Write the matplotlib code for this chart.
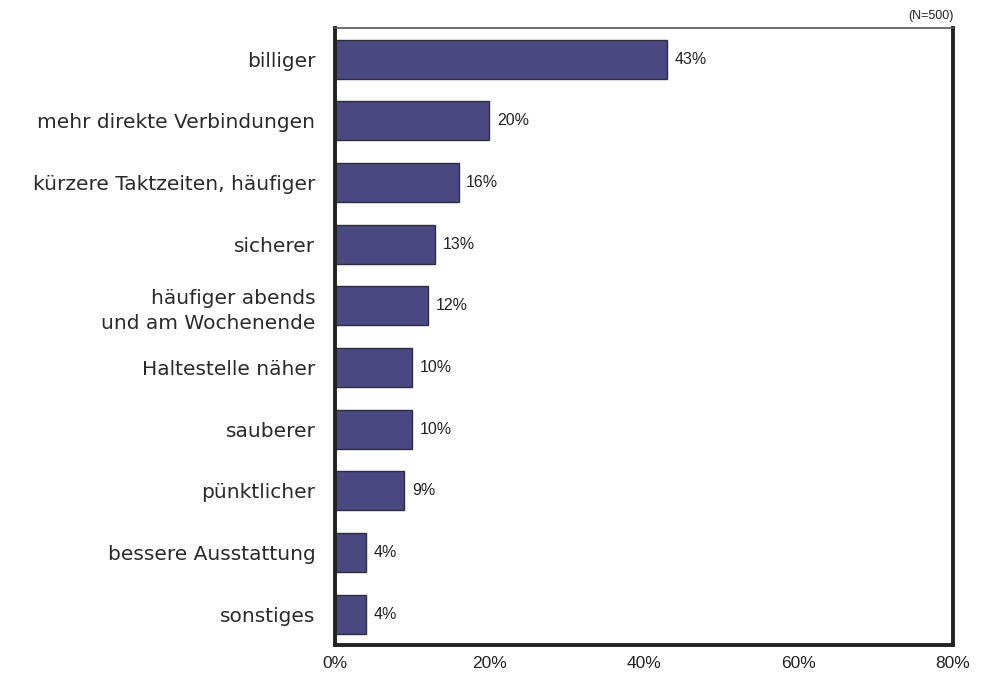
import matplotlib
matplotlib.use("Agg")
import matplotlib.pyplot as plt
from matplotlib import font_manager

categories = ["billiger", "mehr direkte Verbindungen", "kürzere Taktzeiten, häufiger",
              "sicherer", "häufiger abends\nund am Wochenende", "Haltestelle näher",
              "sauberer", "pünktlicher", "bessere Ausstattung", "sonstiges"]
values = [43, 20, 16, 13, 12, 10, 10, 9, 4, 4]
xticks = [0, 20, 40, 60, 80]
xticklabels = ["0%", "20%", "40%", "60%", "80%"]

names = {f.name for f in font_manager.fontManager.ttflist}
narrow = "Liberation Sans Narrow" if "Liberation Sans Narrow" in names else "Liberation Sans"

plt.rcParams['font.family'] = ['Liberation Sans', 'DejaVu Sans']

fig = plt.figure(figsize=(9.85, 6.73), dpi=100)
ax = fig.add_axes([0.340, 0.0416, 0.6275, 0.9164])

ypos = list(range(len(categories)))
ax.barh(ypos, values, height=0.63, color="#4a4880", edgecolor="#2e2e3e", linewidth=1.0)
for y, v in zip(ypos, values):
    ax.text(v + 1.0, y, f"{v}%", va="center", ha="left", fontsize=11.5,
            family=[narrow, 'DejaVu Sans'], color="#222222")

ax.set_ylim(len(categories) - 0.5, -0.5)
ax.set_xlim(0, 80)
ax.set_yticks(ypos)
ax.set_yticklabels(categories, fontsize=14.5, color="#2a2a2a", linespacing=1.4,
                   family=['DejaVu Sans'])
ax.set_xticks(xticks)
ax.set_xticklabels(xticklabels, fontsize=12.5, color="#222222")
ax.tick_params(axis="y", length=0, pad=14)
ax.tick_params(axis="x", length=0, pad=8)

for s in ["left", "bottom", "right"]:
    ax.spines[s].set_linewidth(2.8)
    ax.spines[s].set_color("#222222")
ax.spines["top"].set_linewidth(1.2)
ax.spines["top"].set_color("#555555")

fig.text(0.968, 0.985, "(N=500)", ha="right", va="top", fontsize=9,
         family=[narrow, 'DejaVu Sans'], color="#222222")

fig.savefig("out.png", dpi=100)
